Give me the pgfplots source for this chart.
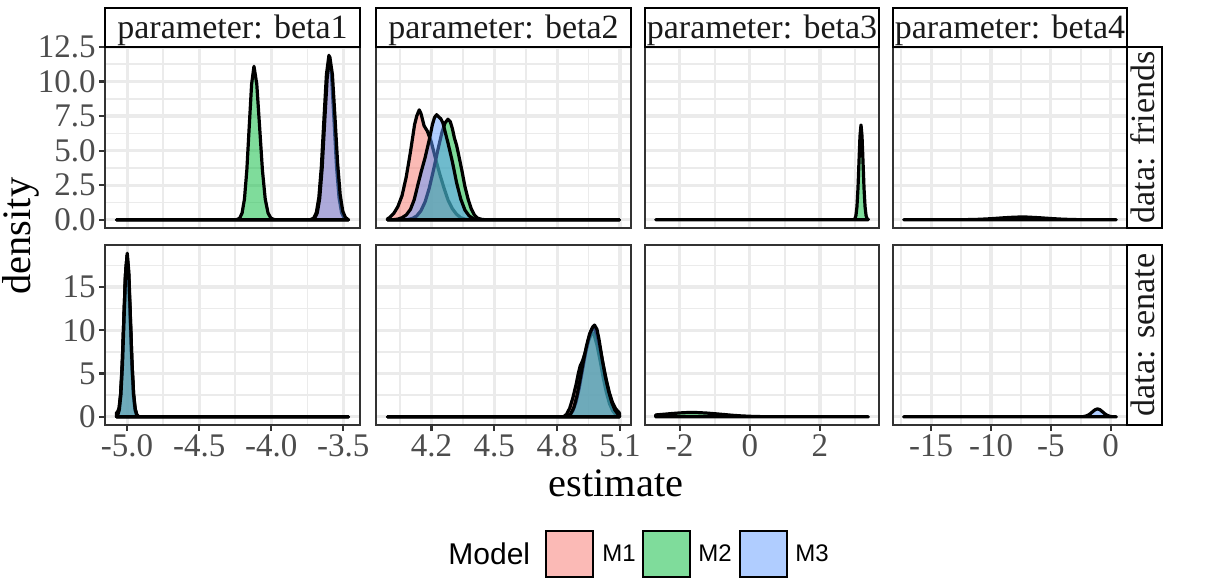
\documentclass[border=0pt]{standalone}
\usepackage{pgfplots}
\pgfplotsset{compat=1.18}
\usepackage{fontspec}
\setmainfont{Liberation Serif}
\newfontfamily\legfont{Liberation Sans}
\definecolor{gridc}{HTML}{EBEBEB}
\definecolor{gtwenty}{HTML}{333333}
\definecolor{gthirty}{HTML}{4D4D4D}
\definecolor{gten}{HTML}{1A1A1A}
\definecolor{mone}{HTML}{F8766D}
\definecolor{mtwo}{HTML}{00BA38}
\definecolor{mthree}{HTML}{619CFF}
\newcommand\tickfont{\fontsize{16.5}{18}\selectfont}
\newcommand\stripfont{\fontsize{17}{19}\selectfont}
\newcommand\titlefont{\fontsize{20.2}{24}\selectfont}
\pgfplotsset{
 facet/.style={scale only axis, anchor=north west,
   axis line style={draw=gtwenty, line width=1.1pt},
   grid=both,
   major grid style={draw=gridc, line width=1.6pt},
   minor grid style={draw=gridc, line width=0.8pt},
   tick style={draw=gtwenty, line width=1.1pt},
   major tick length=3pt, minor tick length=0pt,
   tick align=outside,
   xtick pos=bottom, ytick pos=left,
   ticklabel style={font=\tickfont, text=gthirty},
   xticklabel style={inner sep=0.5pt, yshift=-1pt},
   yticklabel style={inner sep=1.5pt},
   axis background/.style={fill=white},
 },
 toprow/.style={facet, height=90.5pt, ymin=-0.595, ymax=12.495,
   ytick={0,2.5,5,7.5,10,12.5}, minor ytick={1.25,3.75,6.25,8.75,11.25},
   xticklabels={}, xtick style={draw=none}},
 botrow/.style={facet, height=90pt, ymin=-0.945, ymax=19.845,
   ytick={0,5,10,15}, minor ytick={2.5,7.5,12.5,17.5}},
 inner/.style={yticklabels={}, ytick style={draw=none}},
 cA/.style={width=127.5pt, xmin=-5.1534, xmax=-3.3846, xtick={-5,-4.5,-4,-3.5}, minor xtick={-4.75,-4.25,-3.75}},
 cB/.style={width=127.5pt, xmin=3.9357, xmax=5.1523, xtick={4.2,4.5,4.8,5.1}, minor xtick={4.05,4.35,4.65,4.95}},
 cC/.style={width=117pt, xmin=-2.989, xmax=3.683, xtick={-2,0,2}, minor xtick={-3,-1,1,3}},
 cD/.style={width=117pt, xmin=-18.19, xmax=1.36, xtick={-15,-10,-5,0}, minor xtick={-17.5,-12.5,-7.5,-2.5}},
 dens/.style={draw=black, line width=1.6pt, line join=round, fill opacity=0.5},
 mA/.style={dens, fill=mone},
 mB/.style={dens, fill=mtwo},
 mC/.style={dens, fill=mthree},
}
\begin{document}
\begin{tikzpicture}
\path[use as bounding box] (0,0) rectangle (606pt,-290pt);
% ---------- friends, beta1
\begin{axis}[toprow, cA, at={(52.5pt,-23.5pt)}, yticklabels={0.0,2.5,5.0,7.5,10.0,12.5}]
\addplot[mA] coordinates {(-5.073,0) (-3.735,0) (-3.7225,0.026) (-3.705,0.13) (-3.6875,0.52) (-3.670,1.61) (-3.6525,3.86) (-3.635,7.22) (-3.6175,10.50) (-3.600,11.9) (-3.5825,10.50) (-3.565,7.22) (-3.5475,3.86) (-3.530,1.61) (-3.5125,0.52) (-3.495,0.13) (-3.4775,0.03) (-3.465,0)} \closedcycle;
\addplot[mB] coordinates {(-5.073,0) (-4.25,0) (-4.2355,0.024) (-4.219,0.12) (-4.2025,0.49) (-4.186,1.50) (-4.1695,3.60) (-4.153,6.73) (-4.1365,9.80) (-4.12,11.1) (-4.1005,9.80) (-4.081,6.73) (-4.0615,3.60) (-4.042,1.50) (-4.0225,0.49) (-4.003,0.12) (-3.9835,0.024) (-3.965,0) (-3.465,0)} \closedcycle;
\addplot[mC] coordinates {(-5.073,0) (-3.73,0) (-3.715,0.03) (-3.698,0.13) (-3.681,0.50) (-3.664,1.55) (-3.647,3.75) (-3.630,7.0) (-3.612,10.3) (-3.594,11.8) (-3.576,10.5) (-3.558,7.4) (-3.540,4.1) (-3.522,1.8) (-3.504,0.62) (-3.486,0.17) (-3.470,0.04) (-3.465,0)} \closedcycle;
\end{axis}
% ---------- friends, beta2
\begin{axis}[toprow, cB, inner, at={(188pt,-23.5pt)}]
\addplot[mA] coordinates {(3.991,0.08) (4.00,0.15) (4.02,0.45) (4.04,0.95) (4.06,1.75) (4.08,3.1) (4.10,4.9) (4.12,6.9) (4.13,7.5) (4.142,7.95) (4.15,7.7) (4.165,6.8) (4.181,6.4) (4.20,5.6) (4.22,4.4) (4.24,3.3) (4.26,2.3) (4.28,1.4) (4.30,0.8) (4.32,0.4) (4.34,0.15) (4.36,0.05) (4.38,0.01) (4.40,0) (5.097,0)} \closedcycle;
\addplot[mB] coordinates {(3.991,0) (4.07,0) (4.09,0.03) (4.11,0.1) (4.13,0.28) (4.15,0.65) (4.17,1.3) (4.19,2.3) (4.21,3.6) (4.23,5.0) (4.25,6.3) (4.265,7.0) (4.279,7.27) (4.29,7.1) (4.30,6.6) (4.31,5.9) (4.32,5.4) (4.33,4.7) (4.345,3.6) (4.36,2.4) (4.375,1.5) (4.39,0.8) (4.405,0.35) (4.42,0.12) (4.44,0.03) (4.46,0) (5.097,0)} \closedcycle;
\addplot[mC] coordinates {(3.991,0) (4.02,0.01) (4.04,0.05) (4.06,0.15) (4.08,0.35) (4.10,0.75) (4.118,1.45) (4.135,2.5) (4.15,3.4) (4.17,4.5) (4.19,5.8) (4.205,6.9) (4.215,7.4) (4.225,7.6) (4.235,7.45) (4.245,7.3) (4.255,7.0) (4.265,6.4) (4.28,5.5) (4.30,4.2) (4.32,2.7) (4.34,1.5) (4.36,0.7) (4.38,0.28) (4.40,0.08) (4.42,0.01) (4.44,0) (5.097,0)} \closedcycle;
\end{axis}
% ---------- friends, beta3
\begin{axis}[toprow, cC, inner, at={(322.5pt,-23.5pt)}]
\addplot[mB] coordinates {(-2.686,0) (2.95,0) (2.967,0.015) (2.996,0.076) (3.025,0.30) (3.054,0.93) (3.083,2.23) (3.112,4.16) (3.141,6.05) (3.17,6.86) (3.199,6.05) (3.228,4.16) (3.257,2.23) (3.286,0.93) (3.315,0.30) (3.344,0.076) (3.38,0.01)} \closedcycle;
\end{axis}
% ---------- friends, beta4
\begin{axis}[toprow, cD, inner, at={(446.5pt,-23.5pt)}]
\addplot[mC] coordinates {(-17.3,0) (-14,0) (-13,0.003) (-12,0.011) (-11,0.033) (-10,0.078) (-9,0.14) (-8,0.19) (-7.4,0.20) (-7,0.195) (-6,0.15) (-5,0.09) (-4,0.04) (-3,0.014) (-2,0.004) (-1,0.001) (0.47,0)} \closedcycle;
\end{axis}
% ---------- senate, beta1
\begin{axis}[botrow, cA, at={(52.5pt,-122.5pt)}, yticklabels={0,5,10,15}, xticklabels={-5.0,-4.5,-4.0,-3.5}]
\addplot[mA] coordinates {(-5.073,0.05) (-5.067,0.20) (-5.056,0.81) (-5.045,2.49) (-5.034,5.97) (-5.023,11.16) (-5.012,16.24) (-5.001,18.4) (-4.990,16.24) (-4.979,11.16) (-4.968,5.97) (-4.957,2.49) (-4.946,0.81) (-4.935,0.20) (-4.924,0.04) (-4.913,0) (-3.465,0)} \closedcycle;
\addplot[mB] coordinates {(-5.073,0.5) (-5.067,0.55) (-5.056,1.0) (-5.045,2.7) (-5.034,6.2) (-5.0225,11.4) (-5.011,16.5) (-5.000,18.7) (-4.989,16.5) (-4.9775,11.4) (-4.966,6.2) (-4.955,2.7) (-4.944,0.95) (-4.9325,0.26) (-4.921,0.05) (-4.91,0) (-3.465,0)} \closedcycle;
\addplot[mC] coordinates {(-5.073,0) (-5.065,0.21) (-5.054,0.83) (-5.043,2.56) (-5.032,6.13) (-5.021,11.46) (-5.010,16.68) (-4.999,18.9) (-4.988,16.68) (-4.977,11.46) (-4.966,6.13) (-4.955,2.56) (-4.944,0.83) (-4.933,0.21) (-4.922,0.04) (-4.911,0) (-3.465,0)} \closedcycle;
\end{axis}
% ---------- senate, beta2
\begin{axis}[botrow, cB, inner, at={(188pt,-122.5pt)}, xticklabels={4.2,4.5,4.8,5.1}]
\addplot[mA] coordinates {(3.991,0) (4.83,0) (4.845,0.3) (4.86,1.0) (4.875,2.2) (4.89,3.7) (4.90,4.9) (4.91,5.9) (4.92,6.4) (4.935,7.5) (4.95,8.8) (4.965,9.7) (4.975,9.6) (4.99,8.3) (5.005,6.5) (5.02,4.5) (5.035,2.8) (5.05,1.5) (5.065,0.7) (5.08,0.25) (5.097,0.05)} \closedcycle;
\addplot[mB] coordinates {(3.991,0) (4.84,0) (4.86,0.2) (4.875,0.7) (4.89,1.7) (4.905,3.3) (4.92,5.3) (4.935,7.3) (4.95,9.0) (4.965,10.1) (4.975,10.3) (4.99,9.5) (5.005,7.9) (5.02,6.0) (5.035,4.2) (5.05,2.7) (5.065,1.6) (5.08,0.9) (5.097,0.45)} \closedcycle;
\addplot[mC] coordinates {(3.991,0) (4.85,0) (4.865,0.35) (4.88,1.1) (4.895,2.5) (4.91,4.4) (4.925,6.4) (4.94,8.2) (4.955,9.6) (4.97,10.4) (4.978,10.6) (4.99,10.1) (5.00,8.9) (5.015,6.6) (5.03,4.6) (5.045,3.0) (5.06,1.7) (5.075,0.8) (5.09,0.3) (5.097,0.2)} \closedcycle;
\end{axis}
% ---------- senate, beta3
\begin{axis}[botrow, cC, inner, at={(322.5pt,-122.5pt)}, xticklabels={-2,0,2}]
\addplot[mB] coordinates {(-2.686,0.22) (-2.5,0.28) (-2.25,0.37) (-2.0,0.45) (-1.75,0.50) (-1.5,0.49) (-1.25,0.44) (-1.0,0.36) (-0.75,0.27) (-0.5,0.18) (-0.25,0.11) (0,0.06) (0.25,0.03) (0.5,0.012) (0.75,0.004) (1.0,0.001) (3.38,0)} \closedcycle;
\end{axis}
% ---------- senate, beta4
\begin{axis}[botrow, cD, inner, at={(446.5pt,-122.5pt)}, xticklabels={-15,-10,-5,0}]
\addplot[mC] coordinates {(-17.3,0) (-3,0) (-2.6,0.003) (-2.45,0.01) (-2.3,0.025) (-2.1,0.08) (-1.9,0.19) (-1.7,0.37) (-1.5,0.61) (-1.3,0.82) (-1.1,0.92) (-0.9,0.82) (-0.7,0.6) (-0.5,0.36) (-0.3,0.18) (-0.1,0.07) (0.1,0.02) (0.3,0.005) (0.47,0.001)} \closedcycle;
\end{axis}
% ---------- strips
\begin{scope}[line width=1.1pt]
\draw[black, fill=white] (52.5pt,-4pt) rectangle (180pt,-23.5pt);
\draw[black, fill=white] (188pt,-4pt) rectangle (315.5pt,-23.5pt);
\draw[black, fill=white] (322.5pt,-4pt) rectangle (439.5pt,-23.5pt);
\draw[black, fill=white] (446.5pt,-4pt) rectangle (563.5pt,-23.5pt);
\draw[black, fill=white] (563.5pt,-23.5pt) rectangle (581pt,-114pt);
\draw[black, fill=white] (563.5pt,-122.5pt) rectangle (581pt,-212.5pt);
\end{scope}
\begin{scope}[every node/.style={font=\stripfont, text=gten, inner sep=0pt}]
\node[anchor=base] at (116.25pt,-19.25pt) {parameter: beta1};
\node[anchor=base] at (251.75pt,-19.25pt) {parameter: beta2};
\node[anchor=base] at (381pt,-19.25pt) {parameter: beta3};
\node[anchor=base] at (505pt,-19.25pt) {parameter: beta4};
\node[anchor=base, rotate=90] at (577pt,-68.75pt) {data: friends};
\node[anchor=base, rotate=90] at (577pt,-167.5pt) {data: senate};
\end{scope}
% ---------- axis titles
\node[anchor=base, font=\titlefont, inner sep=0pt] at (308pt,-248pt) {estimate};
\node[anchor=base, rotate=90, font=\titlefont, inner sep=0pt] at (15.5pt,-118pt) {density};
% ---------- legend
\node[anchor=west, inner sep=0pt, font=\legfont\fontsize{15}{18}\selectfont] at (224pt,-276.75pt) {Model};
\draw[line width=1.1pt, fill=mone, fill opacity=0.5] (273pt,-265.5pt) rectangle (296.5pt,-288.5pt);
\draw[line width=1.1pt, fill=mtwo, fill opacity=0.5] (321.5pt,-265.5pt) rectangle (345pt,-288.5pt);
\draw[line width=1.1pt, fill=mthree, fill opacity=0.5] (370pt,-265.5pt) rectangle (393.5pt,-288.5pt);
\begin{scope}[every node/.style={anchor=west, inner sep=0pt, font=\legfont\fontsize{12}{14}\selectfont}]
\node at (301pt,-276.75pt) {M1};
\node at (349pt,-276.75pt) {M2};
\node at (397.5pt,-276.75pt) {M3};
\end{scope}
\end{tikzpicture}
\end{document}
